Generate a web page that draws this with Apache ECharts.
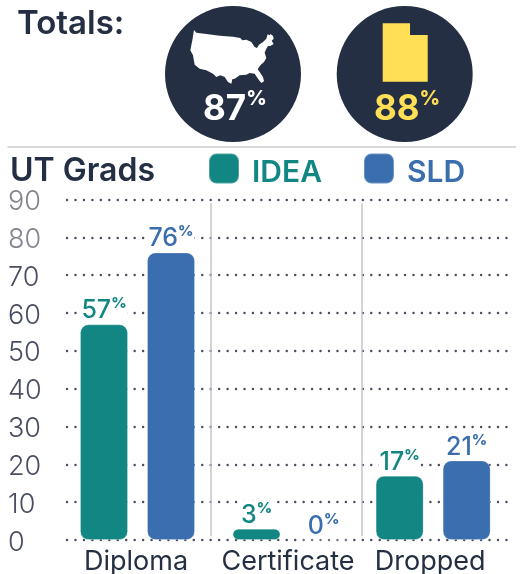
<!DOCTYPE html>
<html>
<head>
<meta charset="utf-8">
<style>html,body{margin:0;padding:0;background:#fff}#c{width:524px;height:574px}</style>
<script src="https://cdn.jsdelivr.net/npm/echarts@6/dist/echarts.min.js"></script>
</head>
<body>
<div id="c"></div>
<script>
const categories = ['Diploma', 'Certificate', 'Dropped'];
const categoryPositions = [0, 1.032, 2];
const separatorPositions = [0.497, 1.516];
const ideaValues = [57, 3, 17];
const sldValues = [76, 0, 21];
const yTicks = [0,10,20,30,40,50,60,70,80,90];
const totals = {us: '87', ut: '88'};

const FONT = 'Inter';
const NAVY = '#252f44', TEAL = '#128682', BLUE = '#3b6eae', YEL = '#ffdf55';
const usa = [[33,24],[40,32],[70,36],[110,41],[150,44],[172,48],[178,55],[190,53],[205,60],[215,75],[222,78],[228,68],[240,60],[250,50],[254,37],[260,40],[263,36],[270,42],[272,50],[266,56],[272,66],[262,72],[255,72],[250,80],[245,92],[250,108],[243,120],[232,130],[224,142],[230,150],[240,165],[243,178],[235,183],[226,172],[215,155],[200,153],[190,158],[170,160],[155,170],[148,172],[145,185],[135,180],[125,165],[112,160],[100,165],[90,155],[70,145],[50,140],[35,128],[30,100],[22,85],[28,55]];

function pct(color, size, small) {
  return {
    v: {fontFamily: FONT, fontSize: size, fontWeight: 500, color: color, lineHeight: size+2, verticalAlign:'bottom'},
    p: {fontFamily: FONT, fontSize: small, fontWeight: 800, color: color, lineHeight: size+2, verticalAlign:'top'}
  };
}
function barSeries(name, values, color) {
  return {
    name, type: 'bar', barWidth: 48, barGap: '39.6%',
    data: values.map((v,i)=>[categoryPositions[i], v]),
    itemStyle: {color, borderRadius: 8, borderColor: 'rgba(255,255,255,0.25)', borderWidth: 1},
    label: {
      show: true, position: 'top', distance: 1, backgroundColor: '#fff', padding:[0,1,0,1],
      formatter: p => `{v|${p.value[1]}}{p|%}`,
      rich: pct(color, 25, 15)
    },
    z: 3
  };
}
const separatorSeries = {
  name: 'separators', type: 'line', data: [], showSymbol:false,
  markLine: {
    silent: true, symbol: 'none', label: {show:false}, animation:false,
    lineStyle: {color:'#c4c4c4', type:'solid', width:1.5},
    data: separatorPositions.map(x => [{xAxis:x, yAxis:89},{xAxis:x, yAxis:1}])
  }
};
const series = [barSeries('IDEA', ideaValues, TEAL), barSeries('SLD', sldValues, BLUE), separatorSeries];
const legendToken = (color) => ({fontFamily: FONT, fontSize: 30, fontWeight: 600, color, padding:[8,0,0,8]});
const yToken = (color) => ({fontFamily: FONT, fontSize: 27, fontWeight: 300, color, padding:[5,0,0,0]});

const chart = echarts.init(document.getElementById('c'), null, {renderer:'canvas', width:524, height:574});
chart.setOption({
  animation: false,
  grid: {left: 67, right: 14, top: 199.5, bottom: 34, containLabel:false, outerBoundsMode:'none'},
  legend: {
    left: 208, top: 152.5, padding: 0, itemWidth: 30, itemHeight: 30, itemGap: 41, icon: 'roundRect', selectedMode:false,
    data: ['IDEA', 'SLD'],
    formatter: n => `{${n}|${n}}`,
    textStyle: {rich: {IDEA: legendToken(TEAL), SLD: legendToken(BLUE)}}
  },
  xAxis: {
    type: 'value', min: -0.477, max: 2.52,
    axisLine:{show:false}, axisTick:{show:false}, splitLine:{show:false},
    axisLabel: {
      customValues: categoryPositions.map((p,i)=>p + [-0.01,-0.014,-0.02][i]),
      formatter: (v) => {
        let best = 0; categoryPositions.forEach((p,i)=>{ if(Math.abs(p-v)<Math.abs(categoryPositions[best]-v)) best=i; });
        return categories[best];
      },
      fontFamily: FONT, fontSize: 27, color: NAVY, margin: 8, hideOverlap:false
    }
  },
  yAxis: {
    type: 'value', min: 0, max: 90, interval: 10,
    axisLine:{show:false}, axisTick:{show:false},
    splitLine:{show:true, lineStyle:{color:'#4b4f63', width:2.4, type:[0.1,8.35], cap:'round'}},
    axisLabel: {
      align:'left', margin: 59,
      formatter: v => v>=80 ? `{hi|${v}}` : `{lo|${v}}`,
      rich: {hi: yToken('#85848f'), lo: yToken('#4a4e62')}
    }
  },
  series,
  graphic: [
    {type:'text', x:17, y:8, style:{text:'Totals:', fontFamily:FONT, fontSize:33, fontWeight:600, fill:NAVY}},
    {type:'text', x:10, y:155, style:{text:'UT Grads', fontFamily:FONT, fontSize:32, fontWeight:600, fill:NAVY}},
    {type:'line', shape:{x1:7.5,y1:147,x2:516,y2:147}, style:{stroke:'#cccccc', lineWidth:1.5}},
    {type:'circle', shape:{cx:233,cy:74,r:68}, style:{fill:NAVY}},
    {type:'circle', shape:{cx:404.7,cy:74,r:68}, style:{fill:NAVY}},
    {type:'polygon', x:183, y:22, scaleX:1/3, scaleY:1/3, shape:{points:usa}, style:{fill:'#fff'}},
    {type:'polygon', shape:{points:[[382.7,23.3],[410,23.3],[410,35],[427.7,35],[427.7,81.7],[382.7,81.7]]}, style:{fill:YEL}},
    {type:'text', x:203, y:89, style:{text:`{v|${totals.us}}{p|%}`, rich:{
      v:{fontFamily:FONT,fontSize:35,fontWeight:700,fill:'#fff',lineHeight:38,verticalAlign:'bottom'},
      p:{fontFamily:FONT,fontSize:20,fontWeight:800,fill:'#fff',lineHeight:38,verticalAlign:'top'}}}},
    {type:'text', x:374, y:89, style:{text:`{v|${totals.ut}}{p|%}`, rich:{
      v:{fontFamily:FONT,fontSize:35,fontWeight:700,fill:YEL,lineHeight:38,verticalAlign:'bottom'},
      p:{fontFamily:FONT,fontSize:20,fontWeight:800,fill:YEL,lineHeight:38,verticalAlign:'top'}}}}
  ]
});
</script>
</body>
</html>
